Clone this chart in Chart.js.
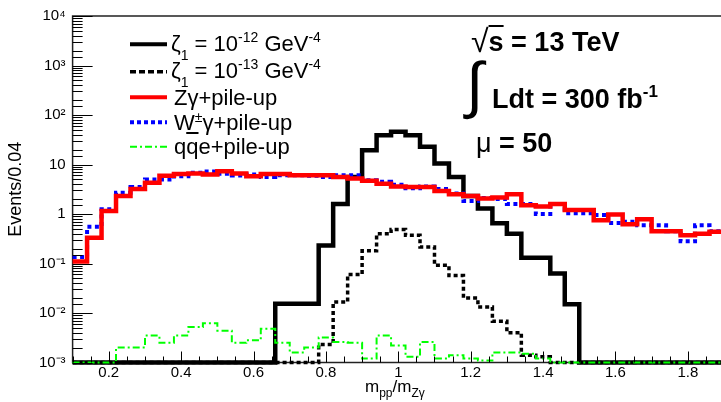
<!DOCTYPE html>
<html><head><meta charset="utf-8">
<script src="https://cdn.jsdelivr.net/npm/chart.js@4.4.1/dist/chart.umd.min.js"></script>
<style>
html,body{margin:0;padding:0;background:#fff;overflow:hidden;}
#wrap{position:relative;width:721px;height:402px;overflow:hidden;font-family:"Liberation Sans",Arial,sans-serif;color:#000;}
#c{position:absolute;left:0;top:0;}
.t{position:absolute;white-space:nowrap;line-height:22px;font-size:22px;}
.sup{font-size:14px;position:relative;top:-9px;}
.sub{font-size:14px;position:relative;top:9px;}
.b{font-weight:bold;font-size:27px;line-height:27px;}
.ov{text-decoration:overline;}
</style></head>
<body><div id="wrap"><canvas id="c" width="726" height="402"></canvas>
<svg style="position:absolute;left:125px;top:30px" width="50" height="130">
  <line x1="5" y1="14.3" x2="42" y2="14.3" stroke="#000" stroke-width="4"/>
  <line x1="5" y1="41.7" x2="42" y2="41.7" stroke="#000" stroke-width="3.5" stroke-dasharray="6,3"/>
  <line x1="5" y1="67.3" x2="42" y2="67.3" stroke="#f00" stroke-width="4"/>
  <line x1="5" y1="92.3" x2="42" y2="92.3" stroke="#00f" stroke-width="4" stroke-dasharray="4,3"/>
  <line x1="5" y1="116.7" x2="42" y2="116.7" stroke="#0f0" stroke-width="2" stroke-dasharray="7,3,2,3"/>
</svg>
<div class="t" style="left:171px;top:33px">ζ<span class="sub">1</span> = 10<span class="sup">-12</span> GeV<span class="sup">-4</span></div>
<div class="t" style="left:171px;top:60px">ζ<span class="sub">1</span> = 10<span class="sup">-13</span> GeV<span class="sup">-4</span></div>
<div class="t" style="left:174px;top:87px">Zγ+pile-up</div>
<div class="t" style="left:174px;top:112px">W<span class="sup" style="top:-8px">±</span>γ+pile-up</div>
<div class="t" style="left:174px;top:136px">q<span class="ov">q</span>e+pile-up</div>
<div class="t b" style="left:471px;top:27px"><span style="font-size:32px;font-weight:normal;position:relative;top:1px">√</span><span style="text-decoration:overline">s</span> = 13 TeV</div>
<div class="t" style="left:466px;top:54px;font-size:62px;line-height:62px;">∫</div>
<div class="t b" style="left:492px;top:86px">Ldt = 300 fb<span class="sup" style="font-size:17px;top:-11px">-1</span></div>
<div class="t b" style="left:476px;top:130px"><span style="font-weight:normal">μ</span> = 50</div>
<div class="t" style="left:365px;top:378px;font-size:17px;line-height:17px">m<span class="sub" style="font-size:12px;top:5px">pp</span>/m<span class="sub" style="font-size:12px;top:5px">Zγ</span></div>
</div>
<script>
const binEdges = [0.10,0.14,0.18,0.22,0.26,0.30,0.34,0.38,0.42,0.46,0.50,0.54,0.58,0.62,0.66,0.70,0.74,0.78,0.82,0.86,0.90,0.94,0.98,1.02,1.06,1.10,1.14,1.18,1.22,1.26,1.30,1.34,1.38,1.42,1.46,1.50,1.54,1.58,1.62,1.66,1.70,1.74,1.78,1.82,1.86,1.90];
const zeta12 = [0.001,0.001,0.001,0.001,0.001,0.001,0.001,0.001,0.001,0.001,0.001,0.001,0.001,0.001,
  0.0154,0.0154,0.0154,0.23,1.6,5.6,19.5,39,46,39,22.8,10.5,5.6,2.3,1.29,0.65,0.40,0.13,0.13,0.063,0.015,
  0.001,0.001,0.001,0.001,0.001,0.001,0.001,0.001,0.001,0.001];
const zeta13 = [0.001,0.001,0.001,0.001,0.001,0.001,0.001,0.001,0.001,0.001,0.001,0.001,0.001,0.001,0.001,0.001,0.001,
  0.0023,0.0166,0.06,0.18,0.40,0.485,0.37,0.216,0.092,0.057,0.02,0.0132,0.0068,0.004,0.0014,0.0013,
  0.001,0.001,0.001,0.001,0.001,0.001,0.001,0.001,0.001,0.001,0.001,0.001];
const zGamma = [0.11,0.33,1.15,2.3,3.2,4.3,5.9,6.4,6.6,6.3,7.3,6.6,5.8,6.4,6.4,6.1,6.1,6.1,5.6,5.2,4.7,4.1,3.6,3.5,3.5,
  2.9,2.5,2.3,2.05,2.15,2.5,1.5,1.42,1.6,1.2,1.2,0.75,0.98,0.62,0.78,0.45,0.45,0.37,0.40,0.44];
const wGamma = [0.135,0.55,1.25,2.7,3.5,5.0,5.0,5.8,6.8,7.2,6.5,6.0,6.3,5.6,6.1,6.1,5.9,5.6,6.1,6.1,4.8,4.5,3.9,3.3,3.6,
  3.2,2.6,1.84,2.1,2.0,1.6,1.6,1.0,1.6,1.03,1.03,0.95,0.66,0.70,0.59,0.59,0.45,0.28,0.59,0.45];
const qqe = [0.001,0.001,0.001,0.002,0.002,0.0035,0.0025,0.0035,0.0052,0.0062,0.0044,0.0025,0.0028,0.0048,0.0025,0.0016,
  0.002,0.0032,0.0026,0.0025,0.0012,0.0035,0.0022,0.0013,0.0026,0.0012,0.0014,0.0012,0.0011,0.0016,0.0016,0.0015,0.0012,
  0.001,0.001,0.001,0.001,0.001,0.001,0.001,0.001,0.001,0.001,0.001,0.001];
const yTickLabels = {"-3":"10⁻³","-2":"10⁻²","-1":"10⁻¹","0":"1","1":"10","2":"10²","3":"10³","4":"10⁴"};

function hist(vals){
  const pts = vals.map((v,i)=>({x:binEdges[i], y:v}));
  pts.push({x:binEdges[vals.length], y:vals[vals.length-1]});
  return pts;
}
function ds(label, vals, color, width, dash, order){
  return {label, data:hist(vals), borderColor:color, borderWidth:width, borderDash:dash, clip:5,
    stepped:'before', pointRadius:0, fill:false, tension:0, order, borderJoinStyle:'miter', borderCapStyle:'butt'};
}
const frameTicks = {
  id:'frameTicks',
  beforeDatasetsDraw(chart){
    const {ctx, chartArea:a} = chart;
    ctx.save(); ctx.lineWidth=1.5; ctx.strokeStyle='#222';
    ctx.strokeRect(a.left,a.top,a.right-a.left,a.bottom-a.top);
    ctx.restore();
  },
  afterDraw(chart){
    const {ctx, chartArea:a, scales:{x,y}} = chart;
    ctx.save();
    ctx.strokeStyle='#000'; ctx.lineWidth=1;
    y.ticks.forEach(t=>{
      const e=Math.log10(t.value); const major=Math.abs(e-Math.round(e))<1e-6;
      const p=Math.round(y.getPixelForValue(t.value))+0.5;
      ctx.beginPath(); ctx.moveTo(a.left,p); ctx.lineTo(a.left+(major?20:10),p); ctx.stroke();
    });
    x.ticks.forEach(t=>{
      const k=t.value/0.2; const major=Math.abs(k-Math.round(k))<1e-6;
      const p=Math.round(x.getPixelForValue(t.value))+0.5;
      ctx.beginPath(); ctx.moveTo(p,a.bottom); ctx.lineTo(p,a.bottom-(major?11:6)); ctx.stroke();
    });
    ctx.restore();
  }
};
new Chart(document.getElementById('c'), {
  type:'line',
  data:{datasets:[
    ds('ζ1 = 10^-12 GeV^-4', zeta12, '#000', 4.5, [], 4),
    ds('ζ1 = 10^-13 GeV^-4', zeta13, '#000', 3.5, [4,3], 3),
    ds('Zγ+pile-up', zGamma, '#ff0000', 4.5, [], 1),
    ds('W±γ+pile-up', wGamma, '#0000ff', 4, [4,3.5], 2),
    ds('qq̄e+pile-up', qqe, '#00ff00', 2, [7,3,2,3], 0)
  ]},
  options:{
    responsive:false, animation:false,
    layout:{padding:{left:0,top:16,right:2,bottom:0}},
    plugins:{legend:{display:false}, tooltip:{enabled:false}},
    scales:{
      x:{type:'linear', min:0.1, max:1.9,
        grid:{display:false, drawTicks:false}, border:{display:false},
        ticks:{stepSize:0.05, autoSkip:false, maxRotation:0, color:'#000', padding:1,
          font:{family:'Liberation Sans', size:15},
          callback:(v)=>{const r=Math.round(v*100)/100; const k=r/0.2; return Math.abs(k-Math.round(k))<1e-6 ? String(r) : '';}},
        afterFit:(s)=>{s.height=39.5;}
      },
      y:{type:'logarithmic', min:0.001, max:10000,
        grid:{display:false, drawTicks:false}, border:{display:false},
        ticks:{autoSkip:false, color:'#000', padding:7, font:{family:'Liberation Sans', size:15},
          callback:(v)=>{const e=Math.log10(v); const r=Math.round(e); return Math.abs(e-r)<1e-6 ? (yTickLabels[String(r)]||'') : '';}},
        title:{display:true, text:'Events/0.04', color:'#000', font:{family:'Liberation Sans', size:18}, padding:{top:5,bottom:0}},
        afterFit:(s)=>{s.width=72.6;}
      }
    }
  },
  plugins:[frameTicks]
});
</script>
</body></html>
